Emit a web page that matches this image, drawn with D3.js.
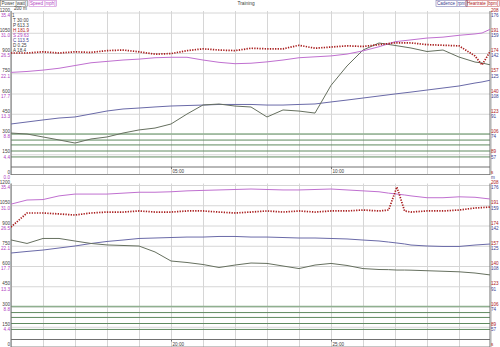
<!DOCTYPE html>
<html>
<head>
<meta charset="utf-8">
<script src="https://cdn.jsdelivr.net/npm/d3@7"></script>
<style>
  body { margin: 0; background: #fff; }
  svg { display: block; }
  text { font-family: "Liberation Sans", Arial, sans-serif; }
</style>
</head>
<body>
<svg id="chart" width="500" height="347"></svg>
<script>
// values, minutes on the time axis
var topTime    = [0,0.5,1,1.5,2,2.5,3,3.5,4,4.5,5,5.5,6,6.5,7,7.5,8,8.5,9,9.5,10,10.5,11,11.5,12,12.5,13,13.5,14,14.5,14.72,15];
var topPower   = [307,300,278,256,233,263,278,307,330,344,374,448,515,522,507,500,426,478,470,455,660,804,922,974,956,937,911,922,870,833,826,811];
var topSpeed   = [22.3,22.5,22.8,23.2,23.8,24.4,24.7,25.0,25.2,25.5,25.6,25.6,25.0,24.5,24.2,24.3,24.6,25.0,25.5,25.7,25.9,26.3,27.0,27.9,29.0,29.4,29.8,30.0,30.4,30.7,30.9,31.8];
var topCadence = [82.4,84.1,85.8,87.4,88.3,90.8,93.3,95.0,95.8,96.7,97.5,97.9,98.3,98.8,98.8,98.8,98.3,98.3,98.8,99.2,100.9,102.5,104.2,105.9,107.6,109.2,110.9,112.6,114.3,116.8,117.7,119.3];
var topHeart   = [174,174,175,174,175,174.5,176,176.5,175,173,173.5,176,177.5,176.5,176,178,177.5,177.5,180.5,178,179,180,179.5,181,182.5,182.5,181,180.5,180,171.5,164,176.5];

var bottomTime    = [15,15.5,16,16.5,17,17.5,18,18.5,19,19.5,20,20.5,21,21.5,22,22.5,23,23.5,24,24.5,25,25.5,26,26.5,26.8,27.06,27.3,27.5,28,28.5,29,29.5,30];
var bottomPower   = [793,767,804,804,785,767,756,752,748,704,637,626,611,589,607,622,619,600,581,607,619,604,581,574,573,570,570,569,565,561,557,548,533];
var bottomSpeed   = [31.2,32.1,32.2,33.0,33.4,33.4,33.4,33.6,33.8,33.8,33.9,34.1,34.2,34.3,34.4,34.5,34.4,34.3,34.3,34.4,34.5,34.3,34.1,33.9,33.6,33.4,33.2,33.0,32.6,32.6,32.8,32.7,32.3];
var bottomCadence = [118.9,120.2,121.4,123.1,124.8,126.9,128.6,129.8,131.1,131.5,131.9,132.3,132.3,132.8,132.8,132.3,132.3,131.9,131.5,131.5,131.1,130.7,129.8,129.0,128.1,127.3,126.5,125.6,124.8,124.4,124.4,125.6,126.5];
var bottomHeart   = [172.7,184.5,184.5,183.7,182.8,184.5,185.3,185.3,186.2,185.3,185.3,186.2,186.2,185.3,184.5,185.3,186.2,185.3,186.2,185.3,186.2,186.2,187.0,186.2,187.0,206.3,186.2,185.3,186.2,186.2,187.0,188.7,189.5];

// zone lines, in watts
var zoneWatts = [300, 255, 219, 174, 130];

// tick labels
var powerTicks   = [1200,1050,900,750,600,450,300,150,0];
var speedLabels  = ['35.4','31.0','26.5','22.1','17.7','13.3','8.8','4.4','0.0'];
var heartLabels  = ['208','191','174','157','140','123','106','89','s'];
var cadenceLabels= ['176','159','142','125','108','91','74','57','m'];

var infoLines = [
  {t: '200 m',   c: '#404040', x: 14, y: 9.5},
  {t: '1',       c: '#404040', x: 12, y: 16.5},
  {t: 'T 30:00', c: '#404040', x: 13, y: 21.5},
  {t: 'P 613.3', c: '#404040', x: 13, y: 26.5},
  {t: 'H 181.9', c: '#b02020', x: 13, y: 31.5},
  {t: 'S 29.63', c: '#b040c0', x: 13, y: 36.5},
  {t: 'C 113.5', c: '#404090', x: 13, y: 41.5},
  {t: 'D 0.25',  c: '#404040', x: 13, y: 46.5},
  {t: 'A 18.4',  c: '#404040', x: 13, y: 51.5}
];

var panels = [
  {time: topTime, power: topPower, speed: topSpeed, cadence: topCadence, heart: topHeart,
   t0: 0, t1: 15, labelTimes: [5, 10], labels: ['05:00', '10:00'], dy: 0},
  {time: bottomTime, power: bottomPower, speed: bottomSpeed, cadence: bottomCadence, heart: bottomHeart,
   t0: 15, t1: 30, labelTimes: [20, 25], labels: ['20:00', '25:00'], dy: 172.5}
];

var colors = {power: '#66705f', speed: '#c070d0', cadence: '#6a6aa8', heart: '#a81c1c',
              powerText: '#404040', speedText: '#b040c0', cadenceText: '#404090', heartText: '#b02020'};

var left = 11, right = 490, H = 347;
var svg = d3.select('#chart');

svg.append('defs').append('clipPath').attr('id', 'plot-clip')
   .append('rect').attr('x', left).attr('y', 0).attr('width', right - left).attr('height', H);

panels.forEach(p => {
  var x  = d3.scaleLinear().domain([p.t0, p.t1]).range([left, 491]);
  var yP = d3.scaleLinear().domain([0, 1200]).range([174.5 + p.dy, 12.5 + p.dy]);
  var yS = d3.scaleLinear().domain([0, 35.38]).range(yP.range());
  var yH = d3.scaleLinear().domain([72, 208]).range(yP.range());
  var yC = d3.scaleLinear().domain([40, 176]).range(yP.range());

  var g = svg.append('g');

  // vertical grid
  g.append('g')
   .attr('transform', 'translate(0,' + (175 + p.dy) + ')')
   .call(d3.axisBottom(x).ticks(15).tickSize(-164).tickFormat(''))
   .call(a => a.select('.domain').remove())
   .selectAll('line').attr('stroke', '#d6d6d6');

  // horizontal grid
  g.append('g')
   .attr('transform', 'translate(' + left + ',0)')
   .call(d3.axisRight(yP).tickValues(powerTicks.slice(0, 8)).tickSize(right - left).tickFormat(''))
   .call(a => a.select('.domain').remove())
   .selectAll('line').attr('stroke', '#d6d6d6');

  // zero line
  g.append('line')
   .attr('x1', left).attr('x2', right)
   .attr('y1', yP(0)).attr('y2', yP(0))
   .attr('stroke', '#8c8c8c');

  // zones
  g.append('g').selectAll('line')
   .data(zoneWatts).enter().append('line')
   .attr('x1', left).attr('x2', right)
   .attr('y1', d => yP(d)).attr('y2', d => yP(d))
   .attr('stroke', (d, i) => i === 0 ? '#8fb08f' : '#5f8a5f')
   .attr('stroke-width', (d, i) => i === 0 ? 1.4 : 1);

  // time axis
  g.append('line')
   .attr('x1', left).attr('x2', right)
   .attr('y1', 167 + p.dy).attr('y2', 167 + p.dy)
   .attr('stroke', '#707070');

  g.append('g')
   .attr('transform', 'translate(0,' + (167 + p.dy) + ')')
   .call(d3.axisBottom(x).tickValues(p.labelTimes).tickSize(2).tickPadding(1)
           .tickFormat((d, i) => p.labels[i]))
   .call(a => a.select('.domain').remove())
   .call(a => a.selectAll('line').attr('stroke', '#707070'))
   .selectAll('text')
   .attr('text-anchor', 'start').attr('x', 1)
   .attr('font-size', '4.6px').attr('fill', '#404040').attr('font-family', null);

  // value labels: power/heartrate above the line, speed/cadence below it
  var valueAxis = (axisFn, xPos, labels, dy, color) => {
    var vals = powerTicks.filter(v => yP(v) + dy < H - 0.5);
    var gl = g.append('g')
     .attr('transform', 'translate(' + xPos + ',0)')
     .call(axisFn(yP).tickValues(vals).tickSize(0).tickPadding(0.5)
             .tickFormat(v => labels[powerTicks.indexOf(v)]))
     .call(a => a.select('.domain').remove());
    gl.selectAll('text')
      .attr('dy', dy).attr('font-size', '4.6px').attr('fill', color).attr('font-family', null);
  };
  valueAxis(d3.axisLeft,  left - 0.5,  powerTicks.map(String), -1.3, colors.powerText);
  valueAxis(d3.axisLeft,  left - 0.5,  speedLabels,            3.8,  colors.speedText);
  valueAxis(d3.axisRight, right + 0.5, heartLabels,            -1.3, colors.heartText);
  valueAxis(d3.axisRight, right + 0.5, cadenceLabels,          3.8,  colors.cadenceText);

  // frame verticals
  [left, right].forEach(xx => {
    g.append('line')
     .attr('x1', xx).attr('x2', xx)
     .attr('y1', 11 + p.dy).attr('y2', 175 + p.dy)
     .attr('stroke', '#707070');
  });

  // series
  var idx = d3.range(p.time.length);
  var series = [
    {vals: p.cadence, y: yC, color: colors.cadence, w: 1},
    {vals: p.power,   y: yP, color: colors.power,   w: 1},
    {vals: p.speed,   y: yS, color: colors.speed,   w: 1},
    {vals: p.heart,   y: yH, color: colors.heart,   w: 1.7, dash: '1.3,1.3'}
  ];
  series.forEach(s => {
    var line = d3.line().x(i => x(p.time[i])).y(i => s.y(s.vals[i]));
    g.append('path')
     .datum(idx)
     .attr('clip-path', 'url(#plot-clip)')
     .attr('fill', 'none')
     .attr('stroke', s.color)
     .attr('stroke-width', s.w)
     .attr('stroke-dasharray', s.dash || null)
     .attr('d', line);
  });
});

// title
svg.append('text').text('Training')
   .attr('x', 246).attr('y', 5.2).attr('text-anchor', 'middle')
   .attr('font-size', '4.8px').attr('fill', '#404040');

// legend boxes
var legend = [
  {t: 'Power [watt]',    x: 1.5, c: colors.powerText},
  {t: 'Speed [mph]',     x: 30,  c: colors.speedText},
  {t: 'Cadence [rpm]',   x: 437, c: colors.cadenceText},
  {t: 'Heartrate [bpm]', x: 467, c: colors.heartText}
];
legend.forEach(l => {
  var t = svg.append('text').text(l.t)
     .attr('x', l.x).attr('y', 5.3)
     .attr('font-size', '4.5px').attr('fill', l.c);
  var w = t.node().getComputedTextLength();
  svg.append('rect')
     .attr('x', l.x - 1).attr('y', 0.5).attr('width', w + 2).attr('height', 6)
     .attr('fill', 'none').attr('stroke', l.c).attr('stroke-width', 0.5).attr('opacity', 0.8);
});

// info text
svg.append('g').selectAll('text')
   .data(infoLines).enter().append('text')
   .attr('x', d => d.x).attr('y', d => d.y)
   .attr('font-size', '4.6px').attr('fill', d => d.c)
   .text(d => d.t);
</script>
</body>
</html>
